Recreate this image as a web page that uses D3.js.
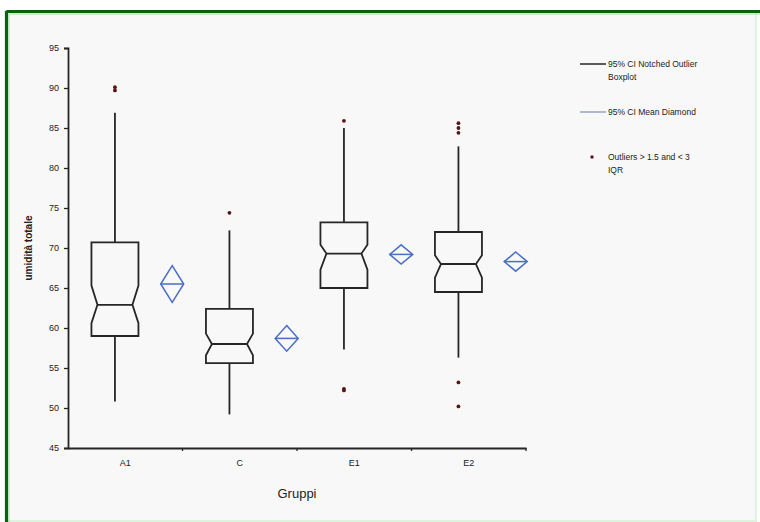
<!DOCTYPE html>
<html>
<head>
<meta charset="utf-8">
<script src="https://cdn.jsdelivr.net/npm/d3@7"></script>
<style>
  html, body { margin: 0; padding: 0; background: #ffffff; }
  svg { display: block; }
  text { font-family: "Liberation Sans", Arial, sans-serif; fill: #222; }
</style>
</head>
<body>
<svg id="chart" width="760" height="522"></svg>
<script>
// ---- data ----
const categories   = ["A1", "C", "E1", "E2"];
const whiskerLow   = [50.8, 49.2, 57.3, 56.3];
const q1           = [59.0, 55.6, 65.0, 64.5];
const notchLow     = [60.6, 56.6, 67.3, 66.3];
const median       = [62.9, 58.0, 69.3, 68.0];
const notchHigh    = [65.3, 59.3, 70.4, 69.1];
const q3           = [70.7, 62.4, 73.2, 72.0];
const whiskerHigh  = [86.9, 72.2, 85.0, 82.7];
const means        = [65.5, 58.7, 69.2, 68.3];
const meanCILow    = [63.2, 57.1, 68.0, 67.1];
const meanCIHigh   = [67.8, 60.3, 70.4, 69.5];
const outliers     = [[90.1, 89.7], [74.4], [85.9, 52.4, 52.2], [85.6, 85.0, 84.4, 53.2, 50.2]];
const yTicks       = [45, 50, 55, 60, 65, 70, 75, 80, 85, 90, 95];
const legendLabels = [["95% CI Notched Outlier", "Boxplot"], ["95% CI Mean Diamond"], ["Outliers > 1.5 and < 3", "IQR"]];
const yTitle = "umidità totale";
const xTitle = "Gruppi";

// ---- layout ----
const svg = d3.select("#chart");
const W = 760, H = 522;
const plot = { left: 68, right: 526, top: 48, bottom: 448 };

// frame
svg.append("rect").attr("x", 6).attr("y", 11).attr("width", W - 10).attr("height", H - 12)
  .attr("fill", "#f8f8f8").attr("stroke", "#dcf3dc").attr("stroke-width", 2);
svg.append("line").attr("x1", 6.5).attr("x2", W).attr("y1", 11.5).attr("y2", 11.5)
  .attr("stroke", "#0d5f14").attr("stroke-width", 3.2);
svg.append("line").attr("x1", 6.5).attr("x2", 6.5).attr("y1", 11).attr("y2", H)
  .attr("stroke", "#0d5f14").attr("stroke-width", 3.2);
svg.append("line").attr("x1", 9).attr("x2", W).attr("y1", 14).attr("y2", 14)
  .attr("stroke", "#a8dca8").attr("stroke-width", 1);
svg.append("line").attr("x1", 9).attr("x2", 9).attr("y1", 14).attr("y2", H)
  .attr("stroke", "#a8dca8").attr("stroke-width", 1);

const y = d3.scaleLinear().domain([45, 95]).range([plot.bottom, plot.top]);
const x = d3.scaleBand().domain(categories).range([plot.left, plot.right]).padding(0);
const bw = x.bandwidth();
const boxCx = c => x(c) + bw * 0.41;
const diaCx = c => x(c) + bw * 0.91;
const boxHalf = 23.5, notchIn = 6, diaHalf = 11.5;
const ink = "#262626";

// y axis
const yAxis = d3.axisLeft(y).tickValues(yTicks).tickSize(4).tickPadding(5).tickFormat(d3.format("d"));
const gy = svg.append("g").attr("transform", `translate(${plot.left},0)`).call(yAxis);
gy.select(".domain").attr("stroke", ink).attr("stroke-width", 1.8);
gy.selectAll(".tick line").attr("stroke", ink).attr("stroke-width", 1.3);
gy.selectAll(".tick text").attr("font-size", 9).attr("font-family", "Liberation Sans, Arial, sans-serif").attr("fill", "#2a2a2a");

// x axis
const xAxis = d3.axisBottom(x).tickSize(0).tickPadding(12);
const gx = svg.append("g").attr("transform", `translate(0,${plot.bottom})`).call(xAxis);
gx.select(".domain").attr("stroke", ink).attr("stroke-width", 1.8);
gx.selectAll(".tick text").attr("font-size", 9).attr("font-family", "Liberation Sans, Arial, sans-serif").attr("fill", "#2a2a2a");
// boundary tick marks
const bounds = categories.slice(1).map(c => x(c)).concat([plot.right]);
svg.selectAll(".bt").data(bounds).enter().append("line")
  .attr("x1", d => d).attr("x2", d => d).attr("y1", plot.bottom).attr("y2", plot.bottom + 3)
  .attr("stroke", ink).attr("stroke-width", 1.3);

// axis titles
svg.append("text").attr("transform", `translate(32,${(plot.top + plot.bottom) / 2}) rotate(-90)`)
  .attr("text-anchor", "middle").attr("font-size", 10).attr("font-weight", "bold").attr("fill", "#222").text(yTitle);
svg.append("text").attr("x", (plot.left + plot.right) / 2).attr("y", 498)
  .attr("text-anchor", "middle").attr("font-size", 13).attr("fill", "#222").text(xTitle);

// boxplots
const boxes = categories.map((c, i) => ({ c, i }));
const g = svg.append("g");
boxes.forEach(({ c, i }) => {
  const cx = boxCx(c);
  g.append("line").attr("x1", cx).attr("x2", cx).attr("y1", y(q3[i])).attr("y2", y(whiskerHigh[i]))
    .attr("stroke", ink).attr("stroke-width", 1.8);
  g.append("line").attr("x1", cx).attr("x2", cx).attr("y1", y(q1[i])).attr("y2", y(whiskerLow[i]))
    .attr("stroke", ink).attr("stroke-width", 1.8);
  const L = cx - boxHalf, R = cx + boxHalf;
  const pts = [
    [L, y(q3[i])], [R, y(q3[i])], [R, y(notchHigh[i])], [R - notchIn, y(median[i])],
    [R, y(notchLow[i])], [R, y(q1[i])], [L, y(q1[i])], [L, y(notchLow[i])],
    [L + notchIn, y(median[i])], [L, y(notchHigh[i])]
  ];
  g.append("path").attr("d", d3.line()(pts) + "Z")
    .attr("fill", "none").attr("stroke", ink).attr("stroke-width", 1.8).attr("stroke-linejoin", "miter");
  g.append("line").attr("x1", L + notchIn).attr("x2", R - notchIn).attr("y1", y(median[i])).attr("y2", y(median[i]))
    .attr("stroke", ink).attr("stroke-width", 1.8);
  g.selectAll(null).data(outliers[i]).enter().append("circle")
    .attr("cx", cx).attr("cy", d => y(d)).attr("r", 1.9).attr("fill", "#561515");
  const dx = diaCx(c);
  const dpts = [[dx, y(meanCIHigh[i])], [dx + diaHalf, y(means[i])], [dx, y(meanCILow[i])], [dx - diaHalf, y(means[i])]];
  g.append("path").attr("d", d3.line()(dpts) + "Z").attr("fill", "none")
    .attr("stroke", "#4a6ec6").attr("stroke-width", 1.5);
  g.append("line").attr("x1", dx - diaHalf).attr("x2", dx + diaHalf).attr("y1", y(means[i])).attr("y2", y(means[i]))
    .attr("stroke", "#4a6ec6").attr("stroke-width", 1.5);
});

// legend
const lg = svg.append("g").attr("font-size", 8.5);
const legY = [64, 112, 157];
lg.append("line").attr("x1", 580).attr("x2", 606).attr("y1", legY[0]).attr("y2", legY[0]).attr("stroke", "#333").attr("stroke-width", 1.6);
lg.append("line").attr("x1", 580).attr("x2", 606).attr("y1", legY[1]).attr("y2", legY[1]).attr("stroke", "#9aa8c8").attr("stroke-width", 1.6);
lg.append("circle").attr("cx", 592).attr("cy", legY[2]).attr("r", 1.7).attr("fill", "#561515");
legendLabels.forEach((lines, k) => {
  lines.forEach((t, j) => {
    lg.append("text").attr("x", 608).attr("y", legY[k] + 3 + j * 13).attr("fill", "#333").text(t);
  });
});
</script>
</body>
</html>
